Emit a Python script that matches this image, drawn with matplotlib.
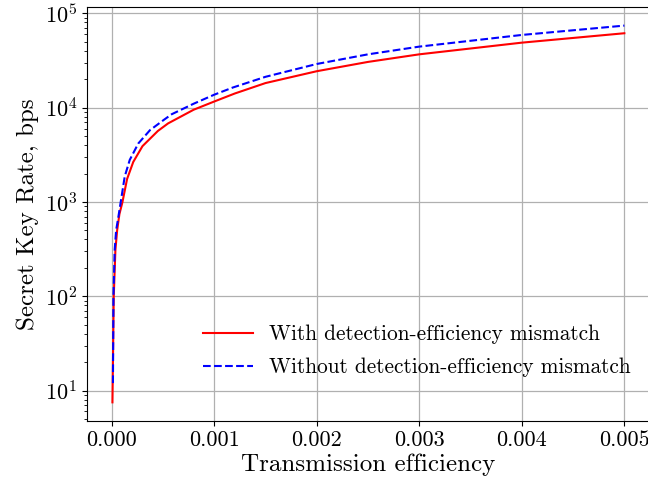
import matplotlib
matplotlib.use("Agg")
import matplotlib.pyplot as plt

# Computer Modern look
plt.rcParams['font.family'] = 'serif'
plt.rcParams['font.serif'] = ['cmr10']
plt.rcParams['mathtext.fontset'] = 'cm'
plt.rcParams['axes.formatter.use_mathtext'] = True
plt.rcParams['axes.unicode_minus'] = False

# data
eta_mismatch = [0.000007, 0.00002, 0.000036, 0.000053, 0.000075, 0.000105, 0.00015,
                0.00021, 0.0003, 0.00045, 0.00055, 0.0008, 0.001, 0.0012,
                0.0015, 0.002, 0.0025, 0.003, 0.004, 0.005]
skr_mismatch = [7.5, 100, 310, 500, 740, 1000, 1750,
                2650, 3900, 5650, 6800, 9500, 11600, 14100,
                18200, 24300, 30500, 36700, 48800, 61400]

eta_ideal = [0.000012, 0.000017, 0.000029, 0.000043, 0.000066, 0.000088, 0.000127,
             0.000176, 0.000259, 0.000373, 0.000504, 0.000585, 0.0008, 0.001,
             0.00118, 0.0015, 0.002, 0.0025, 0.003, 0.004, 0.005]
skr_ideal = [12, 100, 310, 500, 705, 1000, 1860,
             2790, 4160, 5760, 7350, 8500, 11000, 13700,
             16300, 21200, 29000, 36700, 44300, 58900, 74000]

fig = plt.figure(figsize=(6.48, 4.83), dpi=100)
ax = fig.add_axes([0.134, 0.128, 0.869, 0.858])

ax.plot(eta_mismatch, skr_mismatch, color='red', lw=1.5,
        label='With detection-efficiency mismatch')
ax.plot(eta_ideal, skr_ideal, color='blue', lw=1.5, ls='--',
        label='Without detection-efficiency mismatch')

ax.set_yscale('log')
ax.set_xticks([0.0, 0.001, 0.002, 0.003, 0.004, 0.005])
ax.set_xticklabels(['0.000', '0.001', '0.002', '0.003', '0.004', '0.005'])
ax.tick_params(labelsize=16)
ax.grid(True, which='major', color='#b0b0b0', lw=0.9)

ax.set_xlabel('Transmission efficiency', fontsize=18, labelpad=2)
ax.set_ylabel('Secret Key Rate, bps', fontsize=18)

ax.legend(loc='lower right', frameon=False, fontsize=15.4,
          handlelength=2.35, handletextpad=0.75, labelspacing=0.62,
          bbox_to_anchor=(1.0, 0.06))

fig.savefig('out.png', dpi=100)
